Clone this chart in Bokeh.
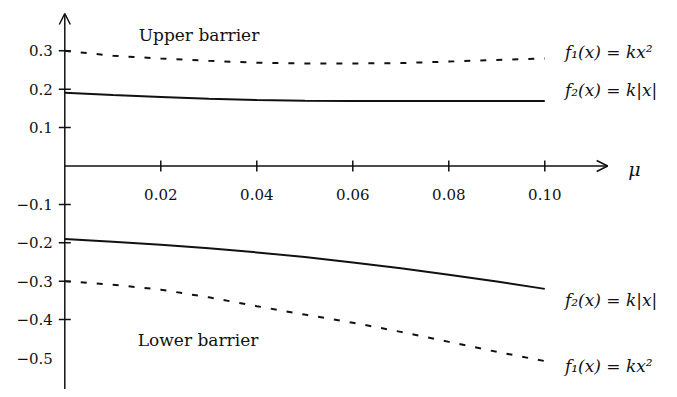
import math
from bokeh.plotting import figure
from bokeh.models import Arrow, OpenHead
from bokeh.core.properties import value
from bokeh.embed import file_html
from bokeh.resources import INLINE

# ---- data ----
mu = [0.00, 0.01, 0.02, 0.03, 0.04, 0.05, 0.06, 0.07, 0.08, 0.09, 0.10]
upper_f1 = [0.300, 0.287, 0.280, 0.274, 0.269, 0.267, 0.267, 0.268, 0.272, 0.276, 0.280]
upper_f2 = [0.191, 0.185, 0.180, 0.175, 0.172, 0.170, 0.169, 0.169, 0.169, 0.169, 0.169]
lower_f2 = [-0.190, -0.197, -0.205, -0.214, -0.225, -0.237, -0.251, -0.266, -0.283, -0.301, -0.320]
lower_f1 = [-0.300, -0.309, -0.322, -0.342, -0.365, -0.387, -0.408, -0.432, -0.458, -0.484, -0.508]

x_ticks = [0.02, 0.04, 0.06, 0.08, 0.10]
x_tick_labels = ["0.02", "0.04", "0.06", "0.08", "0.10"]
y_ticks = [0.3, 0.2, 0.1, -0.1, -0.2, -0.3, -0.4]
y_label_vals = [0.3, 0.2, 0.1, -0.1, -0.2, -0.3, -0.4, -0.5]
y_tick_labels = ["0.3", "0.2", "0.1", "\u22120.1", "\u22120.2", "\u22120.3", "\u22120.4", "\u22120.5"]

curve_labels = ["f\u2081(x) = kx\u00b2", "f\u2082(x) = k|x|", "f\u2082(x) = k|x|", "f\u2081(x) = kx\u00b2"]
curve_label_y = [0.296, 0.197, -0.350, -0.522]
curve_label_x = 0.1042

region_labels = ["Upper barrier", "Lower barrier"]
region_label_x = [0.0154, 0.0152]
region_label_y = [0.342, -0.454]

# ---- figure ----
W, H = 669, 389
px_x = 4800.0   # pixels per unit mu
px_y = 384.0    # pixels per unit y
x0_pix, y0_pix = 64.3, 165.5
x_start = -x0_pix / px_x
x_end = (W - x0_pix) / px_x
y_end = y0_pix / px_y
y_start = -(H - y0_pix) / px_y

p = figure(width=W, height=H, x_range=(x_start, x_end), y_range=(y_start, y_end),
           output_backend="svg", toolbar_location=None, min_border=0,
           x_axis_type=None, y_axis_type=None)
p.grid.visible = False
p.outline_line_color = None
p.background_fill_color = "white"

ink = "#111111"
serif = value("DejaVu Serif")

# axes with arrows
p.add_layout(Arrow(end=OpenHead(size=11, line_width=1.5, line_color=ink),
                   x_start=0, y_start=y_start, x_end=0, y_end=y_end - 13 / px_y,
                   line_width=1.5, line_color=ink))
p.add_layout(Arrow(end=OpenHead(size=11, line_width=1.5, line_color=ink),
                   x_start=0, y_start=0, x_end=0.1131, y_end=0,
                   line_width=1.5, line_color=ink))

# tick marks
p.scatter(x=[0] * len(y_ticks), y=y_ticks, marker="dash", size=12, line_width=1.5,
          line_color=ink)
p.scatter(x=x_ticks, y=[0] * len(x_ticks), marker="dash", angle=math.pi / 2, size=11,
          line_width=1.5, line_color=ink)

# tick labels
p.text(x=[0] * len(y_label_vals), y=y_label_vals, text=y_tick_labels, x_offset=-12,
       text_align="right", text_baseline="middle", text_font=serif,
       text_font_size="15px", text_color=ink)
p.text(x=x_ticks, y=[0] * len(x_ticks), text=x_tick_labels, y_offset=28,
       text_align="center", text_baseline="middle", text_font=serif,
       text_font_size="15px", text_color=ink)

# curves
p.line(mu, upper_f1, line_width=2, line_dash="6 10", line_color=ink)
p.line(mu, upper_f2, line_width=2, line_color=ink)
p.line(mu, lower_f2, line_width=2, line_color=ink)
p.line(mu, lower_f1, line_width=2, line_dash="6 10", line_color=ink)

# curve labels
p.text(x=[curve_label_x] * 4, y=curve_label_y, text=curve_labels,
       text_align="left", text_baseline="middle", text_font=serif,
       text_font_style="italic", text_font_size="17px", text_color=ink)

# region annotations
p.text(x=region_label_x, y=region_label_y, text=region_labels,
       text_align="left", text_baseline="middle", text_font=serif,
       text_font_size="17px", text_color=ink)
p.text(x=[0.1174], y=[0.0], text=["\u03bc"], y_offset=3,
       text_align="left", text_baseline="middle", text_font=serif,
       text_font_style="italic", text_font_size="19px", text_color=ink)

open("out.html", "w").write(file_html(p, INLINE))
